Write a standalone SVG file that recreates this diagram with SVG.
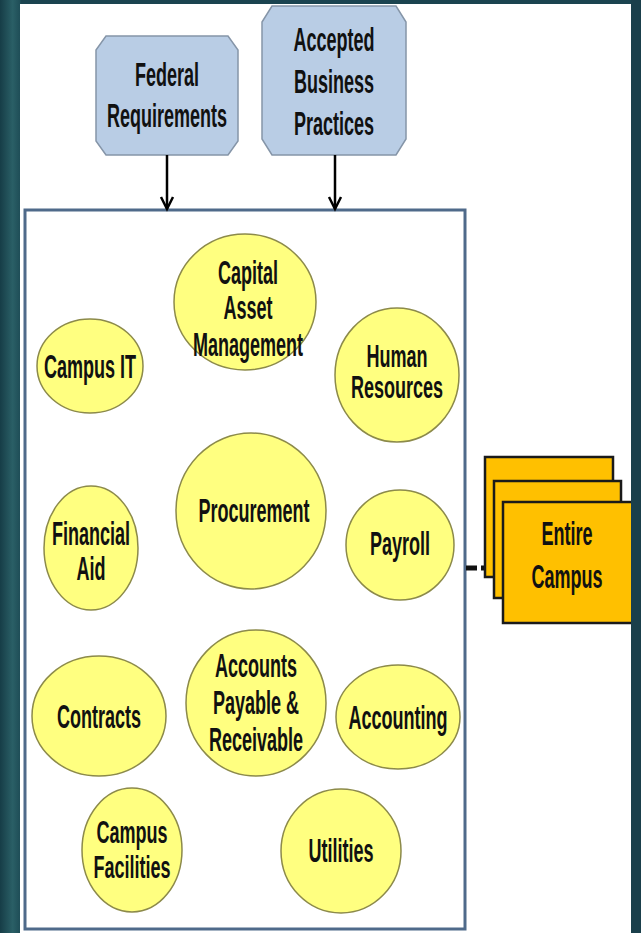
<svg xmlns="http://www.w3.org/2000/svg" width="641" height="933" viewBox="0 0 641 933">
<defs>
<linearGradient id="lg" x1="0" y1="0" x2="1" y2="0">
<stop offset="0" stop-color="#163d47"/>
<stop offset="0.6" stop-color="#2a5f66"/>
<stop offset="1" stop-color="#1d4b55"/>
</linearGradient>
<style>
.t{font-family:"Liberation Sans",Arial,sans-serif;font-weight:bold;font-size:22px;fill:#111;text-anchor:middle}
.oct{fill:#b9cde5;stroke:#8595a8;stroke-width:1.5}
.el{fill:#ffff80;stroke:#8c8a4a;stroke-width:1.5}
.bx{fill:#ffc000;stroke:#1a1a1a;stroke-width:2.5}
.ar{stroke:#000;stroke-width:2.5;fill:none}
</style>
</defs>
<rect x="0" y="0" width="641" height="933" fill="#1b4450"/>
<rect x="0" y="0" width="21" height="933" fill="url(#lg)"/>
<rect x="20" y="4" width="611" height="929" fill="#ffffff"/>
<rect x="25" y="210" width="440" height="719" fill="#ffffff" stroke="#4f6a8a" stroke-width="3"/>

<g id="federal">
<polygon class="oct" points="106,36 228,36 238,50 238,141 228,155 106,155 96,141 96,50"/>
<text class="t" transform="translate(167,86) scale(0.82,1.55)">Federal</text>
<text class="t" transform="translate(167,127) scale(0.82,1.55)">Requirements</text>
</g>
<g id="accepted">
<polygon class="oct" points="272,6 396,6 406,22 406,139 396,155 272,155 262,139 262,22"/>
<text class="t" transform="translate(334,51) scale(0.82,1.55)">Accepted</text>
<text class="t" transform="translate(334,93) scale(0.82,1.55)">Business</text>
<text class="t" transform="translate(334,135) scale(0.82,1.55)">Practices</text>
</g>

<g id="connectors">
<line class="ar" x1="167" y1="155" x2="167" y2="209"/>
<polyline class="ar" points="161,197 167,209 173,197"/>
<line class="ar" x1="335" y1="155" x2="335" y2="209"/>
<polyline class="ar" points="329,197 335,209 341,197"/>
<line x1="466" y1="568" x2="503" y2="568" stroke="#111" stroke-width="5" stroke-dasharray="11 4"/>
</g>

<g id="capital">
<ellipse class="el" cx="245" cy="302" rx="71" ry="68"/>
<text class="t" transform="translate(248,284) scale(0.82,1.55)">Capital</text>
<text class="t" transform="translate(248,319) scale(0.82,1.55)">Asset</text>
<text class="t" transform="translate(248,356) scale(0.82,1.55)">Management</text>
</g>
<g id="campusit">
<ellipse class="el" cx="90" cy="366" rx="53" ry="47"/>
<text class="t" transform="translate(90,378) scale(0.82,1.55)">Campus IT</text>
</g>
<g id="hr">
<ellipse class="el" cx="397" cy="375" rx="62" ry="67"/>
<text class="t" transform="translate(397,367) scale(0.82,1.42)">Human</text>
<text class="t" transform="translate(397,398) scale(0.82,1.42)">Resources</text>
</g>
<g id="procurement">
<ellipse class="el" cx="251" cy="511" rx="75" ry="78"/>
<text class="t" transform="translate(254,522) scale(0.82,1.55)">Procurement</text>
</g>
<g id="finaid">
<ellipse class="el" cx="91" cy="548" rx="47" ry="62"/>
<text class="t" transform="translate(91,545) scale(0.82,1.55)">Financial</text>
<text class="t" transform="translate(91,580) scale(0.82,1.55)">Aid</text>
</g>
<g id="payroll">
<ellipse class="el" cx="400" cy="545" rx="54" ry="55"/>
<text class="t" transform="translate(400,555) scale(0.82,1.55)">Payroll</text>
</g>
<g id="apar">
<ellipse class="el" cx="256" cy="703" rx="70" ry="73"/>
<text class="t" transform="translate(256,677) scale(0.82,1.55)">Accounts</text>
<text class="t" transform="translate(256,714) scale(0.82,1.55)">Payable &amp;</text>
<text class="t" transform="translate(256,751) scale(0.82,1.55)">Receivable</text>
</g>
<g id="contracts">
<ellipse class="el" cx="99" cy="716" rx="67" ry="60"/>
<text class="t" transform="translate(99,728) scale(0.82,1.55)">Contracts</text>
</g>
<g id="accounting">
<ellipse class="el" cx="398" cy="717" rx="62" ry="52"/>
<text class="t" transform="translate(398,729) scale(0.82,1.55)">Accounting</text>
</g>
<g id="facilities">
<ellipse class="el" cx="132" cy="850" rx="50" ry="62"/>
<text class="t" transform="translate(132,843) scale(0.82,1.42)">Campus</text>
<text class="t" transform="translate(132,878) scale(0.82,1.42)">Facilities</text>
</g>
<g id="utilities">
<ellipse class="el" cx="341" cy="851" rx="60" ry="62"/>
<text class="t" transform="translate(341,862) scale(0.82,1.55)">Utilities</text>
</g>

<g id="entire">
<rect class="bx" x="485" y="457" width="128" height="120"/>
<rect class="bx" x="494" y="481" width="127" height="117"/>
<rect class="bx" x="503" y="502" width="134" height="121"/>
<text class="t" transform="translate(567,545) scale(0.82,1.55)">Entire</text>
<text class="t" transform="translate(567,588) scale(0.82,1.55)">Campus</text>
</g>
<rect x="631" y="0" width="10" height="933" fill="#1a3f4b"/>
</svg>
